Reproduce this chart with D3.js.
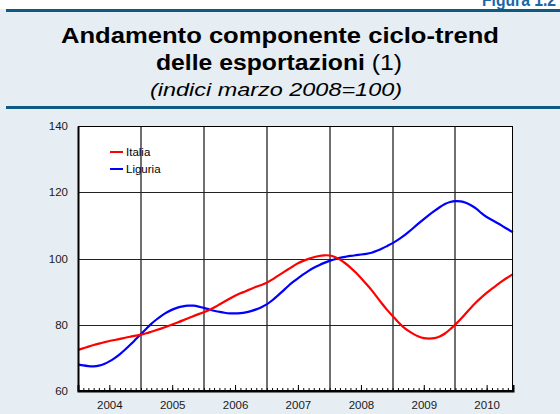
<!DOCTYPE html>
<html>
<head>
<meta charset="utf-8">
<script src="https://cdn.jsdelivr.net/npm/d3@7"></script>
<style>
  body { margin: 0; background: #fff; }
  svg { display: block; font-family: Arial, "Liberation Sans", sans-serif; }
</style>
</head>
<body>
<svg id="chart" width="560" height="414"></svg>
<script>
// dati mensili, gennaio 2004 - dicembre 2010
var startMonth = new Date(2004, 0, 1);
var seriesNames = ["Italia", "Liguria"];
var seriesColors = ["#ff0000", "#0000ff"];

var italia = [
    72.4, 72.9, 73.4, 73.9, 74.3, 74.7, 75.1, 75.4, 75.7, 76.1, 76.4, 76.7,
    77.0, 77.4, 77.9, 78.4, 78.9, 79.5, 80.1, 80.7, 81.3, 82.0, 82.6, 83.2,
    83.8, 84.4, 85.2, 86.1, 87.0, 87.9, 88.8, 89.5, 90.1, 90.8, 91.5, 92.0,
    92.6, 93.6, 94.6, 95.6, 96.6, 97.6, 98.6, 99.3, 99.9, 100.4, 100.8, 101.0,
    101.0, 100.5, 99.7, 98.6, 97.3, 95.8, 94.1, 92.3, 90.5, 88.4, 86.3, 84.4,
    82.6, 80.9, 79.4, 78.2, 77.2, 76.4, 75.9, 75.8, 75.9, 76.4, 77.3, 78.6,
    80.1, 81.7, 83.4, 85.2, 86.8, 88.3, 89.6, 90.9, 92.1, 93.3, 94.3, 95.3
];

var liguria = [
    68.0, 67.7, 67.5, 67.4, 67.6, 68.1, 68.9, 69.9, 71.1, 72.5, 74.0, 75.6,
    77.2, 78.8, 80.3, 81.6, 82.8, 83.8, 84.6, 85.2, 85.6, 85.8, 85.8, 85.5,
    85.1, 84.6, 84.2, 83.9, 83.6, 83.4, 83.4, 83.5, 83.7, 84.1, 84.6, 85.3,
    86.1, 87.3, 88.6, 90.0, 91.5, 92.9, 94.0, 95.2, 96.3, 97.2, 98.0, 98.7,
    99.3, 99.8, 100.2, 100.5, 100.8, 101.0, 101.2, 101.4, 101.7, 102.3, 103.0, 103.8,
    104.6, 105.6, 106.6, 107.9, 109.2, 110.6, 111.9, 113.2, 114.4, 115.5, 116.5, 117.1,
    117.4, 117.3, 116.9, 116.1, 115.2, 113.6, 112.5, 111.6, 110.7, 109.8, 108.8, 107.9
];

var yTicks = [60, 80, 100, 120, 140];
var yearLabels = [2004, 2005, 2006, 2007, 2008, 2009, 2010];

var svg = d3.select("#chart");

// sfondo e testata
svg.append("rect").attr("x", 0).attr("y", 9).attr("width", 560).attr("height", 405).attr("fill", "#e6edf3");

svg.append("text")
    .attr("x", 556).attr("y", 6)
    .attr("text-anchor", "end")
    .attr("font-size", 18).attr("font-weight", "bold")
    .attr("fill", "#1b67a6")
    .attr("textLength", 74).attr("lengthAdjust", "spacingAndGlyphs")
    .text("Figura 1.2");

svg.append("rect").attr("x", 6).attr("y", 9).attr("width", 554).attr("height", 3).attr("fill", "#0f5a80");
svg.append("rect").attr("x", 6).attr("y", 106).attr("width", 554).attr("height", 3).attr("fill", "#0f5a80");

svg.append("text")
    .attr("x", 280).attr("y", 43)
    .attr("text-anchor", "middle")
    .attr("font-size", 22).attr("font-weight", "bold")
    .attr("fill", "#000")
    .attr("textLength", 438).attr("lengthAdjust", "spacingAndGlyphs")
    .text("Andamento componente ciclo-trend");

var t2 = svg.append("text")
    .attr("x", 279).attr("y", 70)
    .attr("text-anchor", "middle")
    .attr("font-size", 22)
    .attr("fill", "#000")
    .attr("textLength", 246).attr("lengthAdjust", "spacingAndGlyphs");
t2.append("tspan").attr("font-weight", "bold").text("delle esportazioni");
t2.append("tspan").text(" (1)");

svg.append("text")
    .attr("x", 276).attr("y", 96)
    .attr("text-anchor", "middle")
    .attr("font-size", 18).attr("font-style", "italic")
    .attr("fill", "#000")
    .attr("textLength", 252).attr("lengthAdjust", "spacingAndGlyphs")
    .text("(indici marzo 2008=100)");

// area del grafico
var margin = {top: 126, right: 47, bottom: 23, left: 78},
    width = 560 - margin.left - margin.right,
    height = 414 - margin.top - margin.bottom;

var x = d3.scaleTime()
    .domain([startMonth, new Date(2010, 11, 1)])
    .range([margin.left, margin.left + width]);

var y = d3.scaleLinear()
    .domain([60, 140])
    .range([margin.top + height, margin.top]);

svg.append("rect")
    .attr("x", margin.left).attr("y", margin.top)
    .attr("width", width).attr("height", height)
    .attr("fill", "#fff");

// griglia verticale (inizio anno)
svg.append("g").selectAll("line")
    .data(yearLabels.slice(1))
    .join("line")
    .attr("x1", d => Math.round(x(new Date(d, 0, 1))))
    .attr("x2", d => Math.round(x(new Date(d, 0, 1))))
    .attr("y1", margin.top).attr("y2", margin.top + height)
    .attr("stroke", "#707070").attr("stroke-width", 2);

// griglia orizzontale
svg.append("g").selectAll("line")
    .data(yTicks.slice(1, -1))
    .join("line")
    .attr("x1", margin.left).attr("x2", margin.left + width)
    .attr("y1", d => Math.round(y(d)) + 0.5).attr("y2", d => Math.round(y(d)) + 0.5)
    .attr("stroke", "#222").attr("stroke-width", 1);

// serie
var months = d3.range(italia.length).map(i => d3.timeMonth.offset(startMonth, i));
var series = [italia, liguria].map((vals, k) => ({
    id: seriesNames[k],
    color: seriesColors[k],
    values: vals.map((v, i) => ({date: months[i], value: v}))
}));

var line = d3.line()
    .curve(d3.curveBasis)
    .x(d => x(d.date))
    .y(d => y(d.value));

svg.append("g").selectAll("path")
    .data(series.slice().reverse())
    .join("path")
    .attr("d", d => line(d.values))
    .attr("fill", "none")
    .attr("stroke", d => d.color)
    .attr("stroke-width", 2.2);

// bordo
svg.append("rect")
    .attr("x", margin.left + 0.5).attr("y", margin.top + 0.5)
    .attr("width", width - 1).attr("height", height - 1)
    .attr("fill", "none").attr("stroke", "#000").attr("stroke-width", 1);

// asse y
var yAxis = svg.append("g")
    .attr("transform", "translate(" + margin.left + ",0)")
    .call(d3.axisLeft(y).tickValues(yTicks).tickSize(0).tickPadding(10));
yAxis.select(".domain").attr("stroke", "#000").attr("stroke-width", 2);
yAxis.selectAll("text").attr("font-size", 11.5).attr("fill", "#1a1a1a").attr("font-family", null);

// asse x: tacche mensili e tacche di metà anno
var xMinor = svg.append("g")
    .attr("transform", "translate(0," + (margin.top + height) + ")")
    .call(d3.axisBottom(x).ticks(d3.timeMonth.every(1)).tickSize(-3).tickFormat(""));
xMinor.select(".domain").remove();
xMinor.selectAll("line").attr("stroke", "#000");

var xAxis = svg.append("g")
    .attr("transform", "translate(0," + (margin.top + height) + ")")
    .call(d3.axisBottom(x)
        .tickValues(yearLabels.map(yr => new Date(yr, 6, 1)))
        .tickSize(-6).tickPadding(10)
        .tickFormat(d3.timeFormat("%Y")));
xAxis.select(".domain").attr("stroke", "#000").attr("stroke-width", 2);
xAxis.selectAll("line").attr("stroke", "#000");
xAxis.selectAll("text").attr("font-size", 11.5).attr("fill", "#1a1a1a").attr("font-family", null);

// legenda
var legend = svg.append("g").selectAll("g")
    .data(series)
    .join("g")
    .attr("transform", (d, i) => "translate(110," + (152 + i * 17) + ")");

legend.append("line")
    .attr("x1", 0).attr("x2", 13)
    .attr("stroke", d => d.color).attr("stroke-width", 2);

legend.append("text")
    .attr("x", 16).attr("dy", "0.35em")
    .attr("font-size", 11.5).attr("fill", "#000")
    .text(d => d.id);
</script>
</body>
</html>
